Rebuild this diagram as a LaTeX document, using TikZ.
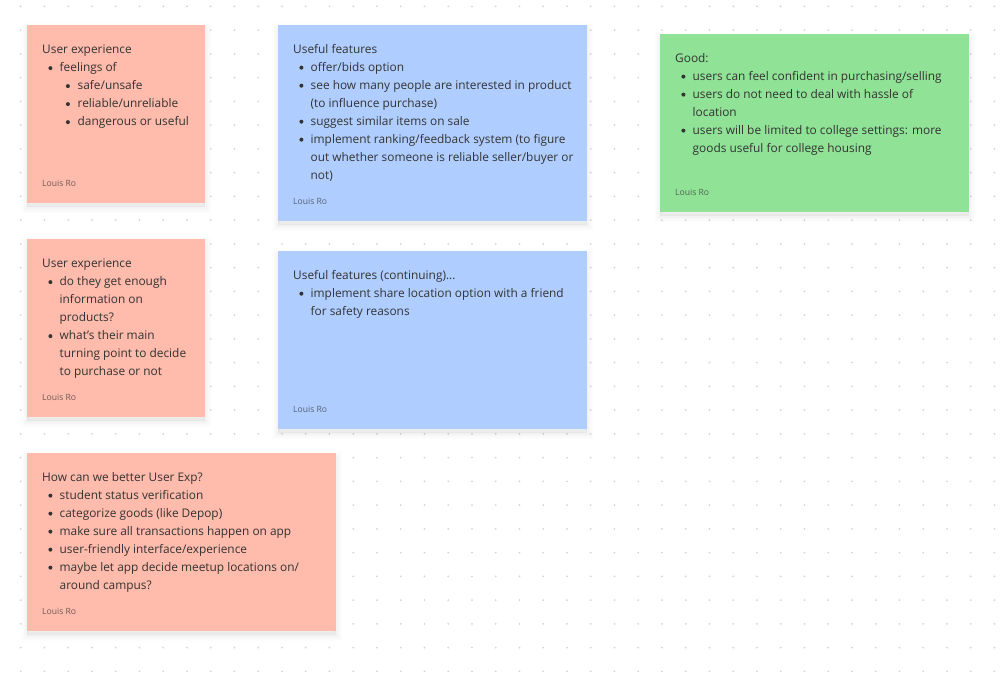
\documentclass[tikz,border=0pt]{standalone}
\usepackage{fontspec}
\setmainfont{Open Sans}
\definecolor{notepink}{HTML}{FFBBAB}
\definecolor{noteblue}{HTML}{AFCEFF}
\definecolor{notegreen}{HTML}{90E296}
\definecolor{notetext}{HTML}{333333}
\newcommand{\notedot}{\tikz[baseline=-3.6pt]\fill (0,0) circle (2pt);}
\newcommand{\bulA}[1]{\makebox[17.5pt][l]{\hspace{6.2pt}\notedot}#1}
\newcommand{\bulB}[1]{\hspace*{17.5pt}\makebox[18pt][l]{\hspace{6.2pt}\notedot}#1}
\newcommand{\contA}[1]{\hspace*{17.5pt}#1}
\tikzset{
    softshadow/.style={
        preaction={fill=black, draw=black, line width=12pt, opacity=.008, transform canvas={yshift=-4pt}},
        preaction={fill=black, draw=black, line width=9pt, opacity=.01, transform canvas={yshift=-4pt}},
        preaction={fill=black, draw=black, line width=6pt, opacity=.012, transform canvas={yshift=-4pt}},
        preaction={fill=black, draw=black, line width=3pt, opacity=.015, transform canvas={yshift=-4pt}}},
    note/.style={softshadow, anchor=north west, inner sep=0pt},
    notetitle/.style={anchor=north west, inner sep=0pt, text=notetext, align=left,
        font=\fontsize{11.87}{18}\selectfont},
    author/.style={anchor=west, inner sep=0pt, text=notetext, text opacity=.7,
        font=\fontsize{8.6}{10}\selectfont}
}
\begin{document}
\begin{tikzpicture}[x=1pt, y=-1pt]
    \useasboundingbox (0,0) rectangle (1000,680);
    \fill[white] (0,0) rectangle (1000,680);
    % dotted board
    \foreach \i in {0,...,41}
        \foreach \j in {0,...,28}
            \fill[black!17] (20.7+23.75*\i, 6.3+23.75*\j) circle (1pt);
    % pink notes
    \node[note, fill=notepink, minimum width=178pt, minimum height=178pt] (exp1) at (27,25) {};
    \node[note, fill=notepink, minimum width=178pt, minimum height=178pt] (exp2) at (27,239) {};
    \node[note, fill=notepink, minimum width=309pt, minimum height=178pt] (better) at (27,453) {};
    % blue notes
    \node[note, fill=noteblue, minimum width=309pt, minimum height=196pt] (feat1) at (278,25) {};
    \node[note, fill=noteblue, minimum width=309pt, minimum height=178pt] (feat2) at (278,251) {};
    % green note
    \node[note, fill=notegreen, minimum width=309pt, minimum height=178pt] (good) at (660,34) {};
    % texts
    \node[notetitle] (exp1text) at (42,44.8) {User experience\\
        \bulA{feelings of}\\
        \bulB{safe/unsafe}\\
        \bulB{reliable/unreliable}\\
        \bulB{dangerous or useful}};
    \node[notetitle] (exp2text) at (42,258.8) {User experience\\
        \bulA{do they get enough}\\
        \contA{information on}\\
        \contA{products?}\\
        \bulA{what's their main}\\
        \contA{turning point to decide}\\
        \contA{to purchase or not}};
    \node[notetitle] (bettertext) at (42,472) {How can we better User Exp?\\
        \bulA{student status verification}\\
        \bulA{categorize goods (like Depop)}\\
        \bulA{make sure all transactions happen on app}\\
        \bulA{user-friendly interface/experience}\\
        \bulA{maybe let app decide meetup locations on/}\\
        \contA{around campus?}};
    \node[notetitle] (feat1text) at (293,44) {Useful features\\
        \bulA{offer/bids option}\\
        \bulA{see how many people are interested in product}\\
        \contA{(to influence purchase)}\\
        \bulA{suggest similar items on sale}\\
        \bulA{implement ranking/feedback system (to figure}\\
        \contA{out whether someone is reliable seller/buyer or}\\
        \contA{not)}};
    \node[notetitle] (feat2text) at (293,270) {Useful features (continuing)...\\
        \bulA{implement share location option with a friend}\\
        \contA{for safety reasons}};
    \node[notetitle] (goodtext) at (675,53) {Good:\\
        \bulA{users can feel confident in purchasing/selling}\\
        \bulA{users do not need to deal with hassle of}\\
        \contA{location}\\
        \bulA{users will be limited to college settings: more}\\
        \contA{goods useful for college housing}};
    % signatures
    \node[author] (exp1name) at (42,183) {Louis Ro};
    \node[author] (exp2name) at (42,397) {Louis Ro};
    \node[author] (bettername) at (42,611) {Louis Ro};
    \node[author] (feat1name) at (293,201) {Louis Ro};
    \node[author] (feat2name) at (293,409) {Louis Ro};
    \node[author] (goodname) at (675,192) {Louis Ro};
\end{tikzpicture}
\end{document}
